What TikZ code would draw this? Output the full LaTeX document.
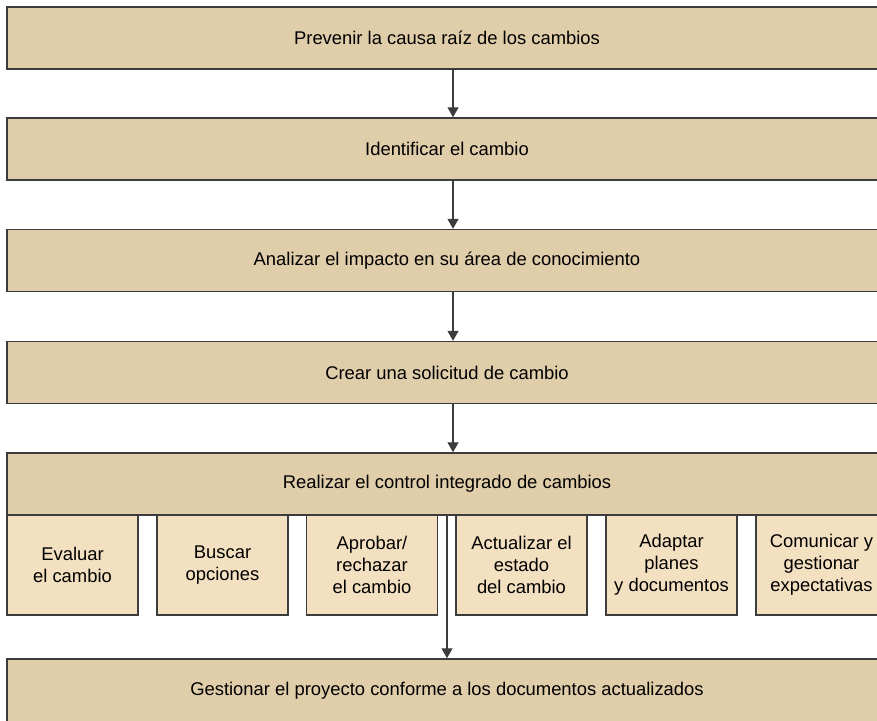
\documentclass[tikz,border=0pt]{standalone}
\usepackage{fontspec}
\setmainfont{Liberation Sans}
\usepackage{tikz}
\usetikzlibrary{arrows.meta, positioning}
\usepackage{xcolor}
\definecolor{bigfill}{RGB}{224,205,170}
\definecolor{smallfill}{RGB}{243,224,192}
\definecolor{edge}{RGB}{60,60,60}

\tikzset{
  bigbox/.style={draw=edge, line width=1.5pt, fill=bigfill, minimum width=880pt, minimum height=62pt, inner sep=0pt},
  smallbox/.style={draw=edge, line width=1.5pt, fill=smallfill, minimum width=131pt, minimum height=100pt, inner sep=0pt, align=center},
  flow/.style={draw=edge, line width=1.3pt, -{Triangle[width=11pt,length=10pt]}}
}

\begin{document}
\begin{tikzpicture}[x=1pt, y=-1pt, font=\fontsize{18.4}{22}\selectfont]
		\useasboundingbox (0,0) rectangle (877,720);
		\clip (0,0) rectangle (877,720);
		\draw (447,38)   node[bigbox] (b1) {Prevenir la causa raíz de los cambios}
		      (447,149)  node[bigbox] (b2) {Identificar el cambio}
		      (447,260.5) node[bigbox] (b3) {Analizar el impacto en su área de conocimiento}
		      (447,372.5) node[bigbox] (b4) {Crear una solicitud de cambio}
		      (447,484)  node[bigbox] (b5) {Realizar el control integrado de cambios}
		      (447,691)  node[bigbox, minimum height=64pt] (b6) {Gestionar el proyecto conforme a los documentos actualizados};
		
		% subtasks under the control box
		\draw (72.5,565)  node[smallbox] (s1) {Evaluar\\el cambio}
		      (222.5,565) node[smallbox] (s2) {Buscar\\opciones}
		      (372,565)   node[smallbox] (s3) {Aprobar/\\rechazar\\el cambio}
		      (521.5,565) node[smallbox] (s4) {Actualizar el\\estado\\del cambio}
		      (671.5,565) node[smallbox] (s5) {Adaptar\\planes\\y documentos}
		      (821.5,565) node[smallbox] (s6) {Comunicar y\\gestionar\\expectativas};
		
		\coordinate (ax) at (453,0);
		\coordinate (bx) at (447,0);
		\draw[flow] (b1.south -| ax) -- (b2.north -| ax);
		\draw[flow] (b2.south -| ax) -- (b3.north -| ax);
		\draw[flow] (b3.south -| ax) -- (b4.north -| ax);
		\draw[flow] (b4.south -| ax) -- (b5.north -| ax);
		\draw[flow] (b5.south -| bx) -- (b6.north -| bx);
	\end{tikzpicture}
\end{document}
